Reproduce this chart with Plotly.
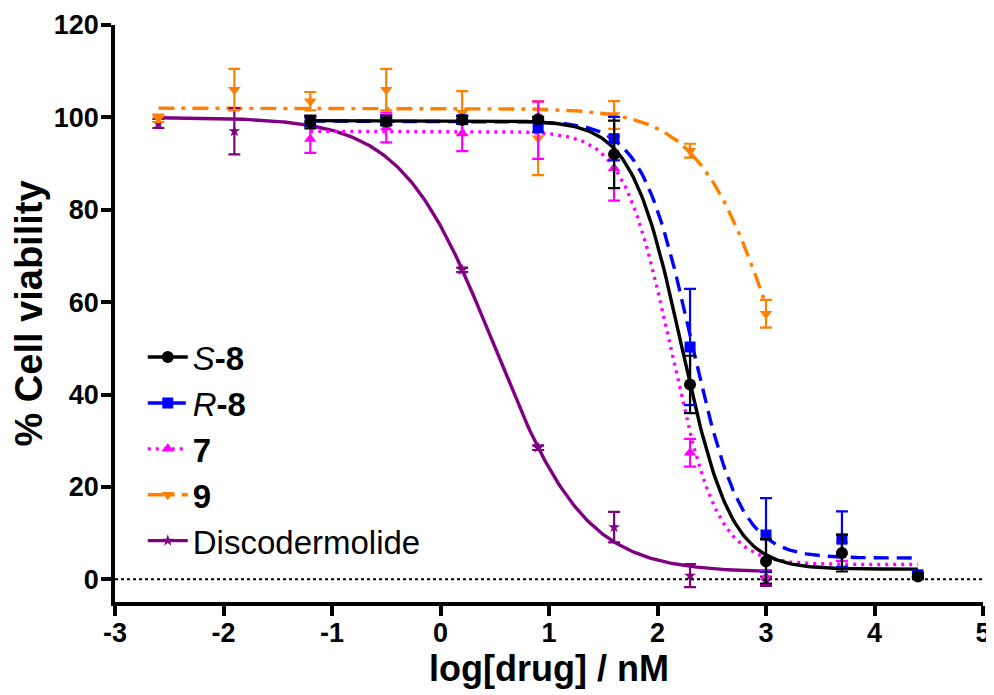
import numpy as np
import plotly.graph_objects as go

# ---------------- data ----------------
log_conc = [-2.6, -1.9, -1.2, -0.5, 0.2, 0.9, 1.6, 2.3, 3.0, 3.7, 4.4]

# S-8 (from -1.2 to 4.4)
s8_x = [-1.2, -0.5, 0.2, 0.9, 1.6, 2.3, 3.0, 3.7, 4.4]
s8_y = [99.0, 99.1, 99.5, 99.6, 92.0, 42.2, 3.9, 5.7, 0.6]
s8_err = [1.4, 0.8, 0.8, 0.5, 7.3, 6.2, 4.8, 4.0, 0.5]

# R-8
r8_x = [-1.2, -0.5, 0.2, 0.9, 1.6, 2.3, 3.0, 3.7, 4.4]
r8_y = [99.2, 99.3, 99.5, 98.0, 95.4, 50.3, 9.6, 8.7, 1.0]
r8_err = [1.0, 1.0, 0.8, 1.2, 4.7, 12.6, 8.0, 6.0, 0.5]

# 7
c7_x = [-1.2, -0.5, 0.2, 0.9, 1.6, 2.3, 3.0, 3.7, 4.4]
c7_y = [95.3, 97.8, 96.5, 97.2, 89.0, 27.4, 0.5, 6.0, 1.0]
c7_err = [3.0, 3.2, 3.8, 6.2, 7.0, 3.0, 1.5, 2.0, 0.5]

# 9 (from -2.6 to 3.0)
c9_x = [-2.6, -1.9, -1.2, -0.5, 0.2, 0.9, 1.6, 2.3, 3.0]
c9_y = [99.8, 106.0, 103.5, 106.0, 101.0, 95.5, 100.5, 92.8, 57.5]
c9_err = [0.8, 4.5, 2.0, 4.5, 4.7, 8.0, 3.0, 1.5, 3.0]

# Discodermolide
dis_x = [-2.6, -1.9, -1.2, -0.5, 0.2, 0.9, 1.6, 2.3, 3.0]
dis_y = [98.7, 97.0, 99.0, 99.5, 67.0, 28.5, 11.3, 0.8, -0.4]
dis_err = [1.0, 5.0, 1.0, 1.0, 0.5, 0.5, 3.3, 2.5, 1.0]

# fitted 4-parameter logistic curves: top, bottom, logIC50, hill, x-start, x-end
s8_fit = [99.3, 2.2, 2.22, 1.9, -1.2, 4.4]
r8_fit = [99.2, 4.6, 2.31, 1.9, -1.2, 4.4]
c7_fit = [97.0, 3.2, 2.12, 2.0, -1.2, 4.4]
c9_fit = [102.0, 0.0, 3.12, 1.2, -2.6, 3.0]
dis_fit = [100.0, 1.5, 0.49, 1.03, -2.6, 3.0]

x_ticks = [-3, -2, -1, 0, 1, 2, 3, 4, 5]
x_tick_labels = ["-3", "-2", "-1", "0", "1", "2", "3", "4", "5"]
y_ticks = [0, 20, 40, 60, 80, 100, 120]
y_tick_labels = ["0", "20", "40", "60", "80", "100", "120"]

# ---------------- styles ----------------
series = [
    # name, x, y, err, fit, color, dash, symbol, msize
    ("<i>S</i><b>-8</b>", s8_x, s8_y, s8_err, s8_fit, "#000000", "solid", "circle", 12),
    ("<i>R</i><b>-8</b>", r8_x, r8_y, r8_err, r8_fit, "#0000FF", "15px,8px", "square", 11),
    ("<b>7</b>", c7_x, c7_y, c7_err, c7_fit, "#FF00FF", "3px,5px", "triangle-up", 11),
    ("<b>9</b>", c9_x, c9_y, c9_err, c9_fit, "#FF8000", "16px,7px,4px,7px", "triangle-down", 11),
    ("Discodermolide", dis_x, dis_y, dis_err, dis_fit, "#800080", "solid", "star", 9),
]


def logistic(x, p):
    top, bottom, ic50, hill = p[0], p[1], p[2], p[3]
    return bottom + (top - bottom) / (1.0 + 10 ** (hill * (x - ic50)))


fig = go.Figure()

# curves (drawn first, Discodermolide at back)
for name, xs, ys, es, fit, col, dash, sym, ms in reversed(series):
    xc = np.linspace(fit[4], fit[5], 300)
    fig.add_trace(go.Scatter(x=xc, y=logistic(xc, fit), mode="lines",
                             line=dict(color=col, width=3.4, dash=dash),
                             showlegend=False, hoverinfo="skip"))

# points with error bars
for name, xs, ys, es, fit, col, dash, sym, ms in reversed(series):
    fig.add_trace(go.Scatter(x=xs, y=ys, mode="markers",
                             marker=dict(color=col, symbol=sym, size=ms),
                             error_y=dict(type="data", array=es, visible=True,
                                          color=col, thickness=2.2, width=6),
                             showlegend=False))

# legend entries
for name, xs, ys, es, fit, col, dash, sym, ms in series:
    fig.add_trace(go.Scatter(x=[None], y=[None], mode="lines+markers", name=name,
                             line=dict(color=col, width=3.4, dash=dash),
                             marker=dict(color=col, symbol=sym, size=ms)))

fig.add_shape(type="line", xref="paper", x0=0, x1=1, yref="y", y0=0, y1=0,
              line=dict(color="black", width=2, dash="dot"))

axis_common = dict(showline=True, linecolor="black", linewidth=3.5,
                   ticks="outside", ticklen=10, tickwidth=3.5, tickcolor="black",
                   showgrid=False, zeroline=False, mirror=False, automargin=False,
                   tickfont=dict(family="Liberation Sans, Arial", size=27, color="black",
                                 weight="bold"))

# the page adds an 8px body margin, so the figure is 8px smaller and shifted
fig.update_layout(
    width=986, height=687,
    margin=dict(l=107, r=11, t=17, b=93),
    paper_bgcolor="white", plot_bgcolor="white",
    font=dict(family="Liberation Sans, Arial", color="black"),
    xaxis=dict(range=[-3, 5], tickvals=x_ticks, ticktext=x_tick_labels,
               ticklabelstandoff=-6,
               title=dict(text="<b>log[drug] / nM</b>", font=dict(size=36), standoff=4),
               **axis_common),
    yaxis=dict(range=[-4.9, 120], tickvals=y_ticks, ticktext=y_tick_labels,
               ticklabelstandoff=-3,
               title=dict(text="<b>% Cell viability</b>", font=dict(size=38), standoff=6),
               **axis_common),
    legend=dict(x=0.032, y=0.473, xanchor="left", yanchor="top",
                font=dict(size=33, color="black"), bgcolor="rgba(0,0,0,0)",
                tracegroupgap=0, itemwidth=40),
    showlegend=True,
)

fig.write_html("out.html")
